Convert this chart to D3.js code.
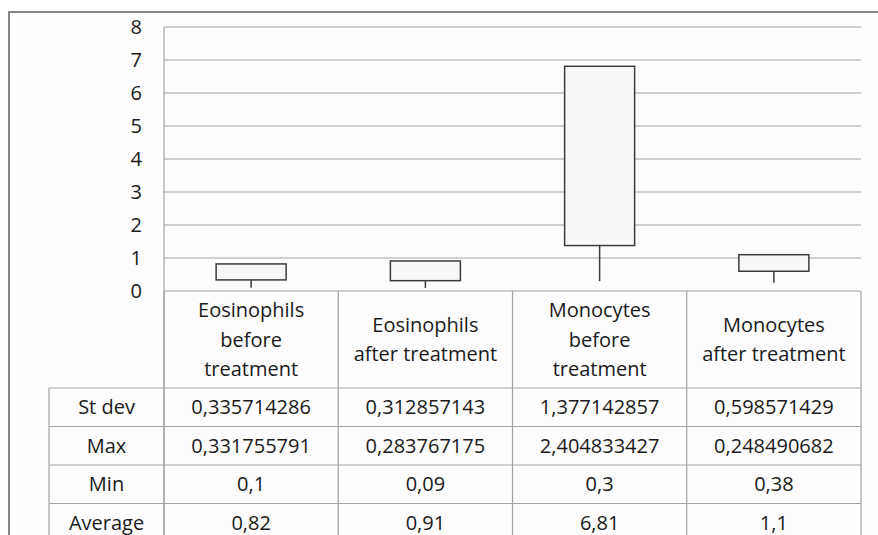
<!DOCTYPE html>
<html>
<head>
<meta charset="utf-8">
<script src="https://cdn.jsdelivr.net/npm/d3@7"></script>
<style>
  body { margin: 0; background: #ffffff; }
  svg text { font-family: "Open Sans", "Noto Sans", sans-serif; fill: #1a1a1a; }
</style>
</head>
<body>
<script>
// dati (serie del grafico azionario: apertura, massimo, minimo, chiusura)
var categories = ["Eosinophils before treatment", "Eosinophils after treatment",
                  "Monocytes before treatment", "Monocytes after treatment"];
var categoryLines = [["Eosinophils", "before", "treatment"], ["Eosinophils", "after treatment"],
                     ["Monocytes", "before", "treatment"], ["Monocytes", "after treatment"]];
var stDev = [0.335714286, 0.312857143, 1.377142857, 0.598571429];
var maxVals = [0.331755791, 0.283767175, 2.404833427, 0.248490682];
var minVals = [0.1, 0.09, 0.3, 0.38];
var average = [0.82, 0.91, 6.81, 1.1];
var rowNames = ["St dev", "Max", "Min", "Average"];
var yTicks = [0, 1, 2, 3, 4, 5, 6, 7, 8];

var W = 878, H = 535;
var plot = {left: 164, right: 861, top: 27, bottom: 291};
var headerBottom = 388, rowH = 38.5, labelLeft = 49;
var gridColor = "#a3a3a3";

var svg = d3.select("body").append("svg")
    .attr("width", W)
    .attr("height", H);

// sfondo e bordo esterno
svg.append("rect")
    .attr("x", 9).attr("y", 12)
    .attr("width", W).attr("height", H)
    .attr("fill", "#fdfdfd")
    .attr("stroke", "#858585")
    .attr("stroke-width", 2);

var x = d3.scaleBand().domain(categories).range([plot.left, plot.right]);
var y = d3.scaleLinear().domain([0, 8]).range([plot.bottom, plot.top]);

// griglia orizzontale
svg.append("g").selectAll("line").data(yTicks).enter().append("line")
    .attr("x1", plot.left).attr("x2", plot.right)
    .attr("y1", function (d) { return y(d); })
    .attr("y2", function (d) { return y(d); })
    .attr("stroke", gridColor)
    .attr("stroke-width", 1.2);

// asse verticale
svg.append("line")
    .attr("x1", plot.left).attr("x2", plot.left)
    .attr("y1", plot.top).attr("y2", H)
    .attr("stroke", gridColor).attr("stroke-width", 1.2);

var yAxis = svg.append("g")
    .attr("transform", "translate(" + plot.left + ",0)")
    .call(d3.axisLeft(y).tickValues(yTicks).tickSize(0).tickPadding(22));
yAxis.select(".domain").remove();
yAxis.selectAll("text")
    .style("font-family", "'Open Sans', sans-serif")
    .attr("font-size", 20)
    .attr("fill", "#1a1a1a");

// linee alto-basso: dal valore più basso al più alto di tutte le serie
var rows = categories.map(function (c, i) {
    var all = [stDev[i], maxVals[i], minVals[i], average[i]];
    return {cat: c, open: stDev[i], close: average[i], lo: d3.min(all), hi: d3.max(all)};
});

svg.append("g").selectAll("line").data(rows).enter().append("line")
    .attr("x1", function (d) { return x(d.cat) + x.bandwidth() / 2; })
    .attr("x2", function (d) { return x(d.cat) + x.bandwidth() / 2; })
    .attr("y1", function (d) { return y(d.lo); })
    .attr("y2", function (d) { return y(d.hi); })
    .attr("stroke", "#3c3c3c")
    .attr("stroke-width", 1.5);

// box tra apertura e chiusura
var boxW = 70;
svg.append("g").selectAll("rect").data(rows).enter().append("rect")
    .attr("x", function (d) { return x(d.cat) + x.bandwidth() / 2 - boxW / 2; })
    .attr("y", function (d) { return y(Math.max(d.open, d.close)); })
    .attr("width", boxW)
    .attr("height", function (d) { return Math.abs(y(d.open) - y(d.close)); })
    .attr("fill", "#f7f7f7")
    .attr("stroke", "#3c3c3c")
    .attr("stroke-width", 1.5);

// tabella dati
var table = svg.append("g");
var colEdges = categories.map(function (c) { return x(c); }).concat([plot.right]);

table.selectAll("line.col").data(colEdges).enter().append("line")
    .attr("class", "col")
    .attr("x1", function (d) { return d; }).attr("x2", function (d) { return d; })
    .attr("y1", plot.bottom).attr("y2", H)
    .attr("stroke", gridColor).attr("stroke-width", 1.2);

table.append("line")
    .attr("x1", labelLeft).attr("x2", labelLeft)
    .attr("y1", headerBottom).attr("y2", H)
    .attr("stroke", gridColor).attr("stroke-width", 1.2);

var rowEdges = d3.range(rowNames.length + 1).map(function (i) { return headerBottom + i * rowH; });
table.selectAll("line.row").data(rowEdges).enter().append("line")
    .attr("class", "row")
    .attr("x1", labelLeft).attr("x2", plot.right)
    .attr("y1", function (d) { return d; }).attr("y2", function (d) { return d; })
    .attr("stroke", gridColor).attr("stroke-width", 1.2);

// intestazioni delle categorie
var headMid = (plot.bottom + headerBottom) / 2;
var lineGap = 29.5;
categories.forEach(function (c, i) {
    var lines = categoryLines[i];
    var t = table.append("text")
        .attr("text-anchor", "middle")
        .attr("font-size", 20);
    lines.forEach(function (l, j) {
        t.append("tspan")
            .attr("x", x(c) + x.bandwidth() / 2)
            .attr("y", headMid + (j - (lines.length - 1) / 2) * lineGap)
            .attr("dy", "0.35em")
            .text(l);
    });
});

var series = [stDev, maxVals, minVals, average];
function fmt(v) { return String(v).replace(".", ","); }

rowNames.forEach(function (name, r) {
    var cy = headerBottom + r * rowH + rowH / 2;
    table.append("text")
        .attr("x", (labelLeft + plot.left) / 2)
        .attr("y", cy).attr("dy", "0.35em")
        .attr("text-anchor", "middle")
        .attr("font-size", 20)
        .text(name);
    table.selectAll(null).data(series[r]).enter().append("text")
        .attr("x", function (d, i) { return x(categories[i]) + x.bandwidth() / 2; })
        .attr("y", cy).attr("dy", "0.35em")
        .attr("text-anchor", "middle")
        .attr("font-size", 20)
        .text(function (d) { return fmt(d); });
});
</script>
</body>
</html>
